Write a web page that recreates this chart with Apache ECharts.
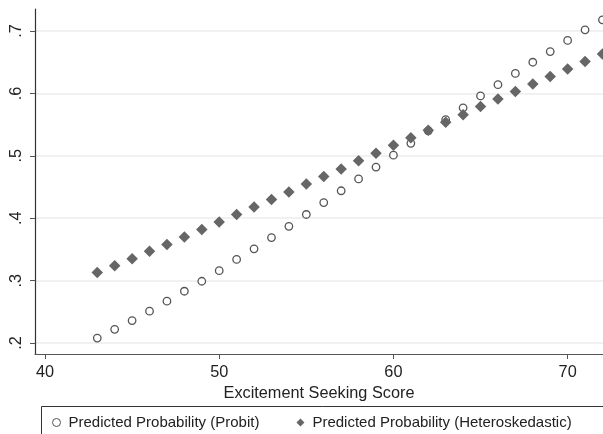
<!DOCTYPE html>
<html lang="en">
<head>
    <meta charset="UTF-8">
    <title>Predicted Probability</title>
    <style>
        *{
            margin: 0;
            padding: 0;
        }
        html ,body{
            height:100%;
            width:100%;
            background: #fff;
        }
        #chart{
            width: 603px;
            height: 434px;
        }
    </style>
</head>
<body>
<div id="chart"></div>
<script src="https://cdn.jsdelivr.net/npm/echarts@6/dist/echarts.min.js"></script>
<script>
    // excitement seeking score 43..72
    var scores = [43,44,45,46,47,48,49,50,51,52,53,54,55,56,57,58,59,60,61,62,63,64,65,66,67,68,69,70,71,72];
    var probit = [.208,.222,.236,.251,.267,.283,.299,.316,.334,.351,.369,.387,.406,.425,.444,.463,.482,.501,.520,.540,.558,.577,.596,.614,.632,.650,.667,.685,.702,.718];
    var hetero = [.313,.324,.335,.347,.358,.370,.382,.394,.406,.418,.430,.442,.455,.467,.479,.492,.504,.517,.529,.541,.554,.566,.579,.591,.603,.615,.627,.639,.651,.663];
    var xTicks = [40,50,60,70];
    var yTicks = [.2,.3,.4,.5,.6,.7];

    function pairs(ys) {
        var out = [];
        for (var i = 0; i < scores.length; i++) {
            out.push([scores[i], ys[i]]);
        }
        return out;
    }

    var chart = echarts.init(document.getElementById('chart'));
    var font = 'Liberation Sans, Arial, sans-serif';
    var option = {
        animation: false,
        backgroundColor: '#fff',
        grid: {
            left: 35,
            right: 0,
            top: 9,
            bottom: 80
        },
        xAxis: {
            type: 'value',
            min: 39.426,
            max: 72.03,
            name: 'Excitement Seeking Score',
            nameLocation: 'middle',
            nameGap: 24,
            nameTextStyle: {color: '#222', fontSize: 16.3, fontFamily: font},
            axisLine: {onZero: false, lineStyle: {color: '#555', width: 1.2}},
            axisTick: {show: true, length: 5, customValues: xTicks, lineStyle: {color: '#555'}},
            axisLabel: {customValues: xTicks, color: '#222', fontSize: 16.3, fontFamily: font, margin: 11},
            splitLine: {show: false}
        },
        yAxis: {
            type: 'value',
            min: 0.1824,
            max: 0.7353,
            axisLine: {show: true, lineStyle: {color: '#333', width: 1.2}},
            axisTick: {show: true, length: 5, customValues: yTicks, lineStyle: {color: '#555'}},
            axisLabel: {
                customValues: yTicks,
                rotate: 90,
                color: '#222',
                fontSize: 16.3,
                fontFamily: font,
                margin: 10,
                formatter: function (v) {
                    return String(+v.toFixed(1)).replace(/^0/, '');
                }
            },
            splitLine: {show: true, lineStyle: {color: '#ececec', width: 1.5}}
        },
        legend: {
            left: 47,
            top: 410,
            itemWidth: 8,
            itemHeight: 8,
            itemGap: 37,
            textStyle: {color: '#222', fontSize: 15, fontFamily: font, padding: [0, 0, 0, 3]},
            data: [
                {name: 'Predicted Probability (Probit)', icon: 'circle', itemStyle: {color: '#fff', borderColor: '#555', borderWidth: 1}},
                {name: 'Predicted Probability (Heteroskedastic)', icon: 'diamond'}
            ]
        },
        graphic: [{
            type: 'rect',
            shape: {x: 41.5, y: 406.5, width: 600, height: 60},
            style: {fill: 'none', stroke: '#333', lineWidth: 1}
        }],
        series: [{
            name: 'Predicted Probability (Probit)',
            type: 'scatter',
            symbol: 'circle',
            symbolSize: 7.5,
            itemStyle: {color: '#fff', borderColor: '#555', borderWidth: 1.3, opacity: 1},
            data: pairs(probit),
            z: 2
        }, {
            name: 'Predicted Probability (Heteroskedastic)',
            type: 'scatter',
            symbol: 'diamond',
            symbolSize: 11.5,
            itemStyle: {color: '#666', opacity: 1},
            data: pairs(hetero),
            z: 3
        }]
    };
    chart.setOption(option);
</script>
</body>
</html>
